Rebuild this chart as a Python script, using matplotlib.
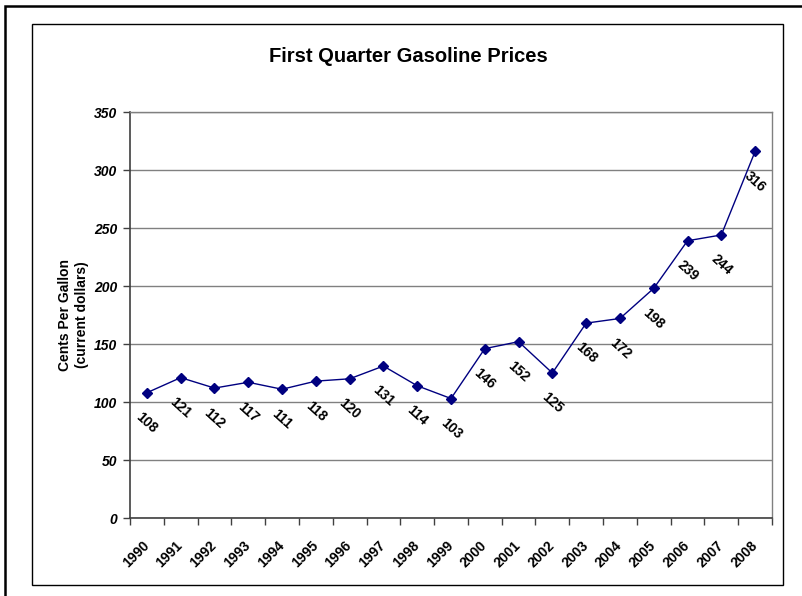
import matplotlib.pyplot as plt
from matplotlib.patches import Rectangle
from matplotlib.transforms import ScaledTranslation

years = [str(y) for y in range(1990, 2009)]
prices = [108, 121, 112, 117, 111, 118, 120, 131, 114, 103,
          146, 152, 125, 168, 172, 198, 239, 244, 316]
yticks = [0, 50, 100, 150, 200, 250, 300, 350]

W, H = 803, 596
plt.rcParams['font.family'] = ['Liberation Sans', 'DejaVu Sans']

fig = plt.figure(figsize=(W / 100, H / 100), dpi=100)

# borders: outer chart frame (cropped) and inner chart area
fig.patches.append(Rectangle((5 / W, -0.1), 1.2, 1 - 6 / H + 0.1, transform=fig.transFigure,
                             fill=False, edgecolor='black', linewidth=1.8))
fig.patches.append(Rectangle((32 / W, 1 - 585 / H), (783 - 32) / W, (585 - 24) / H,
                             transform=fig.transFigure, fill=False, edgecolor='black', linewidth=1.0))

ax = fig.add_axes([130 / W, 1 - 518 / H, 642 / W, 406 / H])
x = list(range(len(years)))
ax.plot(x, prices, color='#000080', linewidth=1.0, marker='D', markersize=5.5, zorder=3)

for xi, v in zip(x, prices):
    ax.annotate(str(v), (xi, v), xytext=(0, -30), textcoords='offset pixels',
                ha='center', va='center', rotation=-42, fontsize=10, fontweight='bold')

ax.set_xlim(-0.5, len(years) - 0.5)
ax.set_ylim(0, 350)
ax.set_yticks(yticks)
ax.set_yticklabels([str(t) for t in yticks], fontsize=10, fontweight='bold', fontstyle='italic')
ax.yaxis.grid(True, color='#808080', linewidth=1.0)
ax.set_axisbelow(True)

ax.set_xticks(x)
ax.set_xticklabels(years, rotation=45, ha='right', va='center', rotation_mode='anchor',
                   fontsize=10, fontweight='bold')
shift = ScaledTranslation(-9 / 100, 0, fig.dpi_scale_trans)
for lbl in ax.get_xticklabels():
    lbl.set_transform(lbl.get_transform() + shift)
ax.set_xticks([i - 0.5 for i in range(len(years) + 1)], minor=True)
ax.tick_params(axis='x', which='major', length=0, pad=18)
ax.tick_params(axis='x', which='minor', length=5, width=1, color='#404040')
ax.tick_params(axis='y', length=5, width=1, color='#404040', pad=4)

for side in ['left', 'bottom']:
    ax.spines[side].set_color('#404040')
    ax.spines[side].set_linewidth(1.2)
for side in ['right', 'top']:
    ax.spines[side].set_color('#808080')
    ax.spines[side].set_linewidth(1.0)

ax.set_ylabel('Cents Per Gallon\n(current dollars)', fontsize=10, fontweight='bold', labelpad=4)
fig.text(408 / W, 1 - 57 / H, 'First Quarter Gasoline Prices', ha='center', va='center',
         fontsize=14.5, fontweight='bold')

fig.savefig('out.png', dpi=100)
